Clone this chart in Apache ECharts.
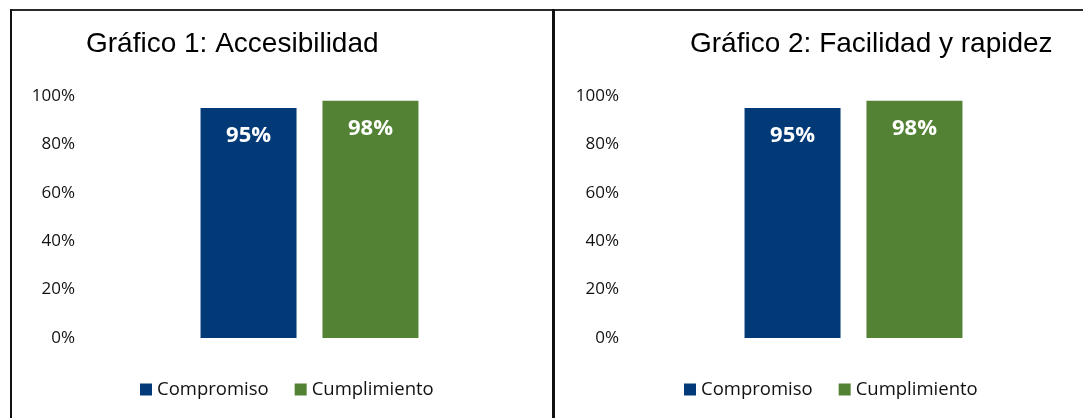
<!DOCTYPE html>
<html>
<head>
<meta charset="utf-8">
<script src="https://cdn.jsdelivr.net/npm/echarts@6/dist/echarts.min.js"></script>
<style>
  html, body { margin: 0; padding: 0; background: #fff; }
  #wrap { position: relative; width: 1083px; height: 418px; overflow: hidden; }
  #chart { position: absolute; left: 0; top: 0; width: 1083px; height: 418px; }
  .ln { position: absolute; background: #111; }
</style>
</head>
<body>
<div id="wrap">
  <div id="chart"></div>
  <div class="ln" style="left:10px; top:9px; width:1073px; height:2px; background:#2a2a2a;"></div>
  <div class="ln" style="left:10px; top:9px; width:2px; height:409px;"></div>
  <div class="ln" style="left:552px; top:9px; width:3px; height:409px;"></div>
</div>
<script>
// ---- data ----
const titles = ['Gráfico 1: Accesibilidad', 'Gráfico 2: Facilidad y rapidez'];
const categories = [''];
const seriesNames = ['Compromiso', 'Cumplimiento'];
const chart1Compromiso = [0.95];
const chart1Cumplimiento = [0.98];
const chart2Compromiso = [0.95];
const chart2Cumplimiento = [0.98];
const yMin = 0, yMax = 1, yInterval = 0.2;

// ---- style ----
const colors = { Compromiso: '#023a78', Cumplimiento: '#548235' };
const labelFont = 'Open Sans';
const titleFont = 'Liberation Sans';

const chart = echarts.init(document.getElementById('chart'), null, { renderer: 'canvas' });

function yAxis(gi) {
  return {
    gridIndex: gi, type: 'value', min: yMin, max: yMax, interval: yInterval,
    axisLine: { show: false }, axisTick: { show: false }, splitLine: { show: false },
    axisLabel: {
      margin: 10, color: '#111', fontFamily: labelFont, fontSize: 17,
      formatter: v => Math.round(v * 100) + '%'
    }
  };
}
function xAxis(gi) {
  return {
    gridIndex: gi, type: 'category', data: categories,
    axisLine: { show: false }, axisTick: { show: false }, axisLabel: { show: false },
    splitLine: { show: false }
  };
}
function barSeries(name, data, gi) {
  return {
    name: name, type: 'bar', xAxisIndex: gi, yAxisIndex: gi, data: data,
    barWidth: 96, barGap: '27%',
    itemStyle: { color: colors[name] },
    label: {
      show: true, position: ['50%', 28], align: 'center', verticalAlign: 'middle',
      color: '#fff', fontFamily: labelFont, fontWeight: 'bold', fontSize: 22,
      formatter: p => Math.round(p.value * 100) + '%'
    },
    emphasis: { disabled: true }
  };
}
function legend(left) {
  return {
    data: seriesNames, left: left, top: 380, padding: 0, icon: 'rect',
    itemWidth: 12, itemHeight: 12, itemGap: 26,
    textStyle: { fontFamily: labelFont, fontSize: 18.5, color: '#111' },
    selectedMode: false
  };
}
function title(text, left) {
  return {
    text: text, left: left, top: 30, padding: 0,
    textStyle: { fontFamily: titleFont, fontSize: 28, fontWeight: 'normal', color: '#000' }
  };
}

chart.setOption({
  animation: false,
  title: [title(titles[0], 86), title(titles[1], 690)],
  legend: [legend(140), legend(684)],
  grid: [
    { left: 85, width: 449, top: 96, height: 242 },
    { left: 629, width: 449, top: 96, height: 242 }
  ],
  xAxis: [xAxis(0), xAxis(1)],
  yAxis: [yAxis(0), yAxis(1)],
  series: [
    barSeries(seriesNames[0], chart1Compromiso, 0),
    barSeries(seriesNames[1], chart1Cumplimiento, 0),
    barSeries(seriesNames[0], chart2Compromiso, 1),
    barSeries(seriesNames[1], chart2Cumplimiento, 1)
  ]
});
</script>
</body>
</html>
